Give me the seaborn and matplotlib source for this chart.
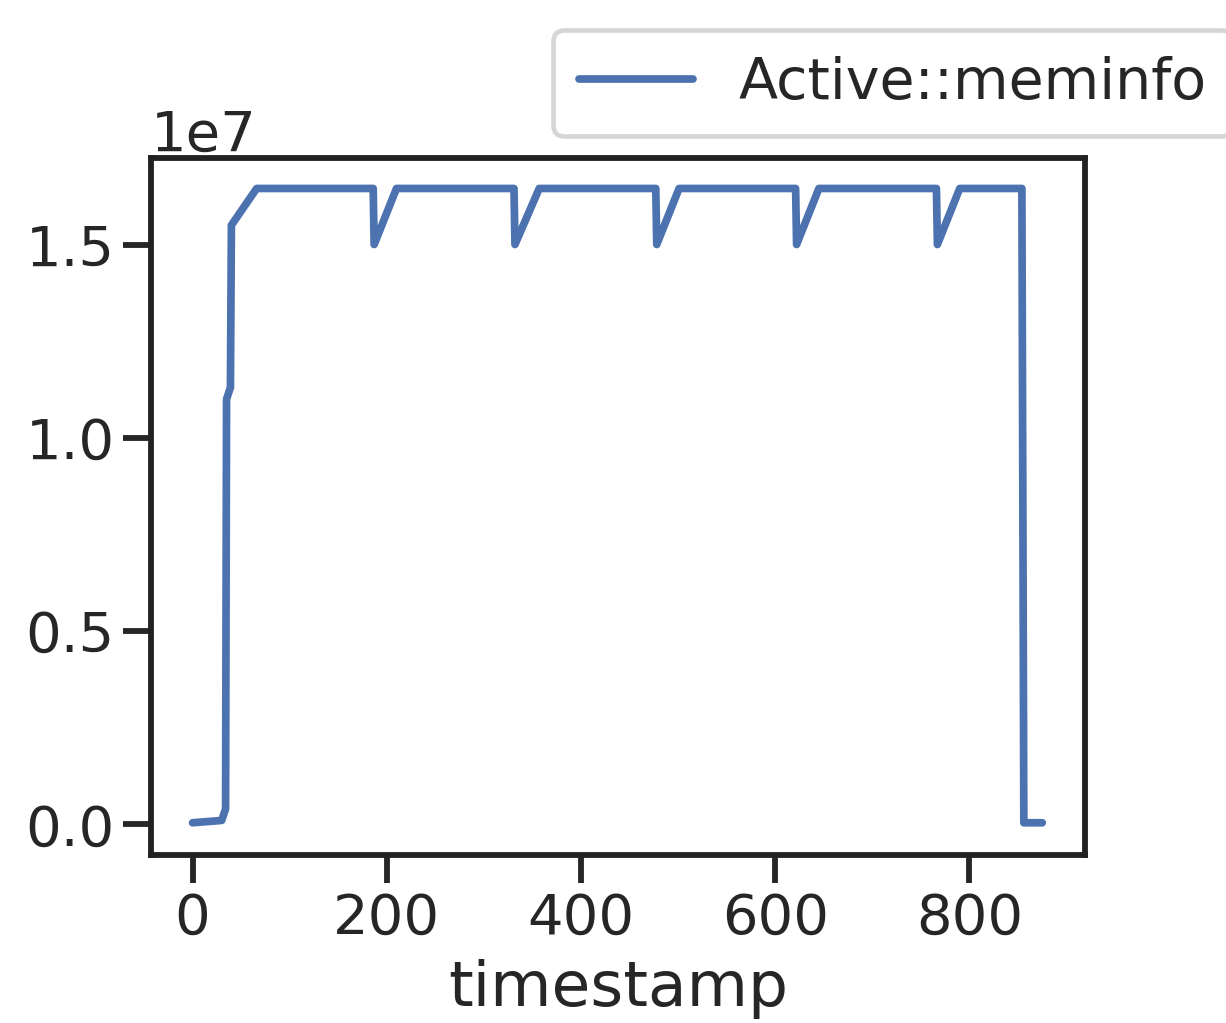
import pandas as pd
import matplotlib.pyplot as plt
import seaborn as sns

# vertices of the Active::meminfo trace
timestamp = [0, 30, 34, 35, 39, 40, 66,
             186, 187, 210,
             331, 332, 357,
             477, 478, 501,
             621, 622, 645,
             766, 767, 790,
             854, 856, 875]
active = [0.004e7, 0.010e7, 0.040e7, 1.10e7, 1.13e7, 1.55e7, 1.645e7,
          1.645e7, 1.50e7, 1.645e7,
          1.645e7, 1.50e7, 1.645e7,
          1.645e7, 1.50e7, 1.645e7,
          1.645e7, 1.50e7, 1.645e7,
          1.645e7, 1.50e7, 1.645e7,
          1.645e7, 0.004e7, 0.004e7]

df = pd.DataFrame({'timestamp': timestamp, 'Active::meminfo': active})

sns.set_theme(style='ticks', context='poster')

dpi = 168
fig = plt.figure(figsize=(1226 / dpi, 1023 / dpi), dpi=dpi)
ax = fig.add_axes([0.123, 0.164, 0.762, 0.682])

sns.lineplot(data=df, x='timestamp', y='Active::meminfo', ax=ax,
             color='#4c72b0', linewidth=3.3, label='Active::meminfo')

ax.set_ylabel('')
ax.set_xlabel('timestamp', fontsize=27, labelpad=6)
ax.set_xlim(-43, 919)
ax.set_ylim(-0.08e7, 1.725e7)
ax.set_xticks([0, 200, 400, 600, 800])
ax.set_yticks([0, 0.5e7, 1.0e7, 1.5e7])
ax.tick_params(axis='both', labelsize=24)
ax.yaxis.get_offset_text().set_fontsize(24)

for spine in ax.spines.values():
    spine.set_color('#222222')

# legend sits above the axes and runs to the right edge
ax.legend(loc='upper left', bbox_to_anchor=(553 / 1226, 1 - 30 / 1023),
          bbox_transform=fig.transFigure, borderaxespad=0, fontsize=24.5,
          borderpad=0.45)

fig.savefig('out.png', dpi=dpi)
